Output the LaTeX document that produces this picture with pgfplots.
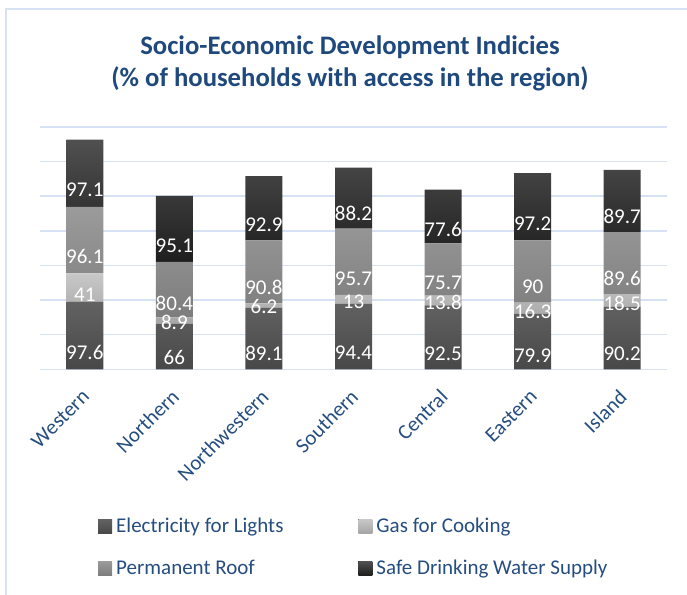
\documentclass[border=0pt]{standalone}
\usepackage{pgfplots}
\pgfplotsset{compat=1.18}
\usepackage{pgfplotstable}
\usepackage{fontspec}
\setmainfont{Carlito}
\definecolor{titleblue}{RGB}{31,73,125}
\definecolor{textblue}{RGB}{37,77,128}
\definecolor{gridblue}{RGB}{214,226,243}
\definecolor{elecT}{RGB}{98,98,98}
\definecolor{elecB}{RGB}{72,72,72}
\definecolor{gasT}{RGB}{200,200,200}
\definecolor{gasB}{RGB}{165,165,165}
\definecolor{roofT}{RGB}{155,155,155}
\definecolor{roofB}{RGB}{125,125,125}
\definecolor{waterT}{RGB}{80,80,80}
\definecolor{waterB}{RGB}{30,30,30}
\pgfplotstableread{
x elec gas roof water
0 97.6 41 96.1 97.1
1 66 8.9 80.4 95.1
2 89.1 6.2 90.8 92.9
3 94.4 13 95.7 88.2
4 92.5 13.8 75.7 77.6
5 79.9 16.3 90 97.2
6 90.2 18.5 89.6 89.7
}\datatable
\begin{document}
\begin{tikzpicture}
\path[use as bounding box] (0,0) rectangle (687bp,595bp);
\draw[gridblue, line width=1.5bp] (6bp,0) -- (6bp,586bp) -- (687bp,586bp);
\node[text=titleblue, font=\fontsize{26.7bp}{32bp}\selectfont\bfseries] at (350bp,548bp) {Socio-Economic Development Indicies};
\node[text=titleblue, font=\fontsize{26.7bp}{32bp}\selectfont\bfseries] at (350bp,516bp) {(\% of households with access in the region)};
\begin{axis}[
  at={(40bp,225.7bp)}, anchor=south west,
  width=627bp, height=242.3bp, scale only axis,
  ybar stacked, bar width=37bp,
  xmin=-0.5, xmax=6.5, ymin=0, ymax=350,
  xtick=data,
  xticklabels={Western,Northern,Northwestern,Southern,Central,Eastern,Island},
  ytick={0,50,...,350}, yticklabels={},
  ymajorgrids, grid style={gridblue, line width=1.5bp},
  axis line style={draw=none},
  major tick length=0,
  /pgf/number format/assume math mode=true,
  x tick label style={xshift=1bp, yshift=-24bp, rotate=45, anchor=east, inner sep=0pt,
    text=textblue, font=\fontsize{21bp}{25bp}\selectfont},
  nodes near coords={\pgfmathprintnumber[assume math mode=true]{\pgfplotspointmeta}},
  every node near coord/.append style={text=white, font=\fontsize{21bp}{25bp}\selectfont,
    anchor=center, inner sep=0pt, shift={(axis direction cs:0,-\rawy/4)}},
  every axis plot post/.append style={legend image code/.code={\fill[##1,draw=none] (0bp,-7bp) rectangle (14bp,7bp);}},
  legend columns=2,
  legend style={at={(0.0925,-0.61)}, anchor=north west, draw=none, fill=none, inner sep=0pt,
    text=textblue, font=\fontsize{21bp}{25bp}\selectfont,
    nodes={inner sep=1bp},
    /tikz/every odd column/.append style={column sep=3bp},
    /tikz/every even column/.append style={column sep=74bp},
    row sep=24bp},
  legend cell align=left,
]
\addplot[draw=none, top color=elecT, bottom color=elecB,
  visualization depends on={\thisrow{elec} \as \rawy}, point meta=\thisrow{elec}]
  table[x=x,y=elec]{\datatable};
\addplot[draw=none, top color=gasT, bottom color=gasB,
  visualization depends on={\thisrow{gas} \as \rawy}, point meta=\thisrow{gas}]
  table[x=x,y=gas]{\datatable};
\addplot[draw=none, top color=roofT, bottom color=roofB,
  visualization depends on={\thisrow{roof} \as \rawy}, point meta=\thisrow{roof}]
  table[x=x,y=roof]{\datatable};
\addplot[draw=none, top color=waterT, bottom color=waterB,
  visualization depends on={\thisrow{water} \as \rawy}, point meta=\thisrow{water}]
  table[x=x,y=water]{\datatable};
\legend{Electricity for Lights, Gas for Cooking, Permanent Roof, Safe Drinking Water Supply}
\end{axis}
\end{tikzpicture}
\end{document}
